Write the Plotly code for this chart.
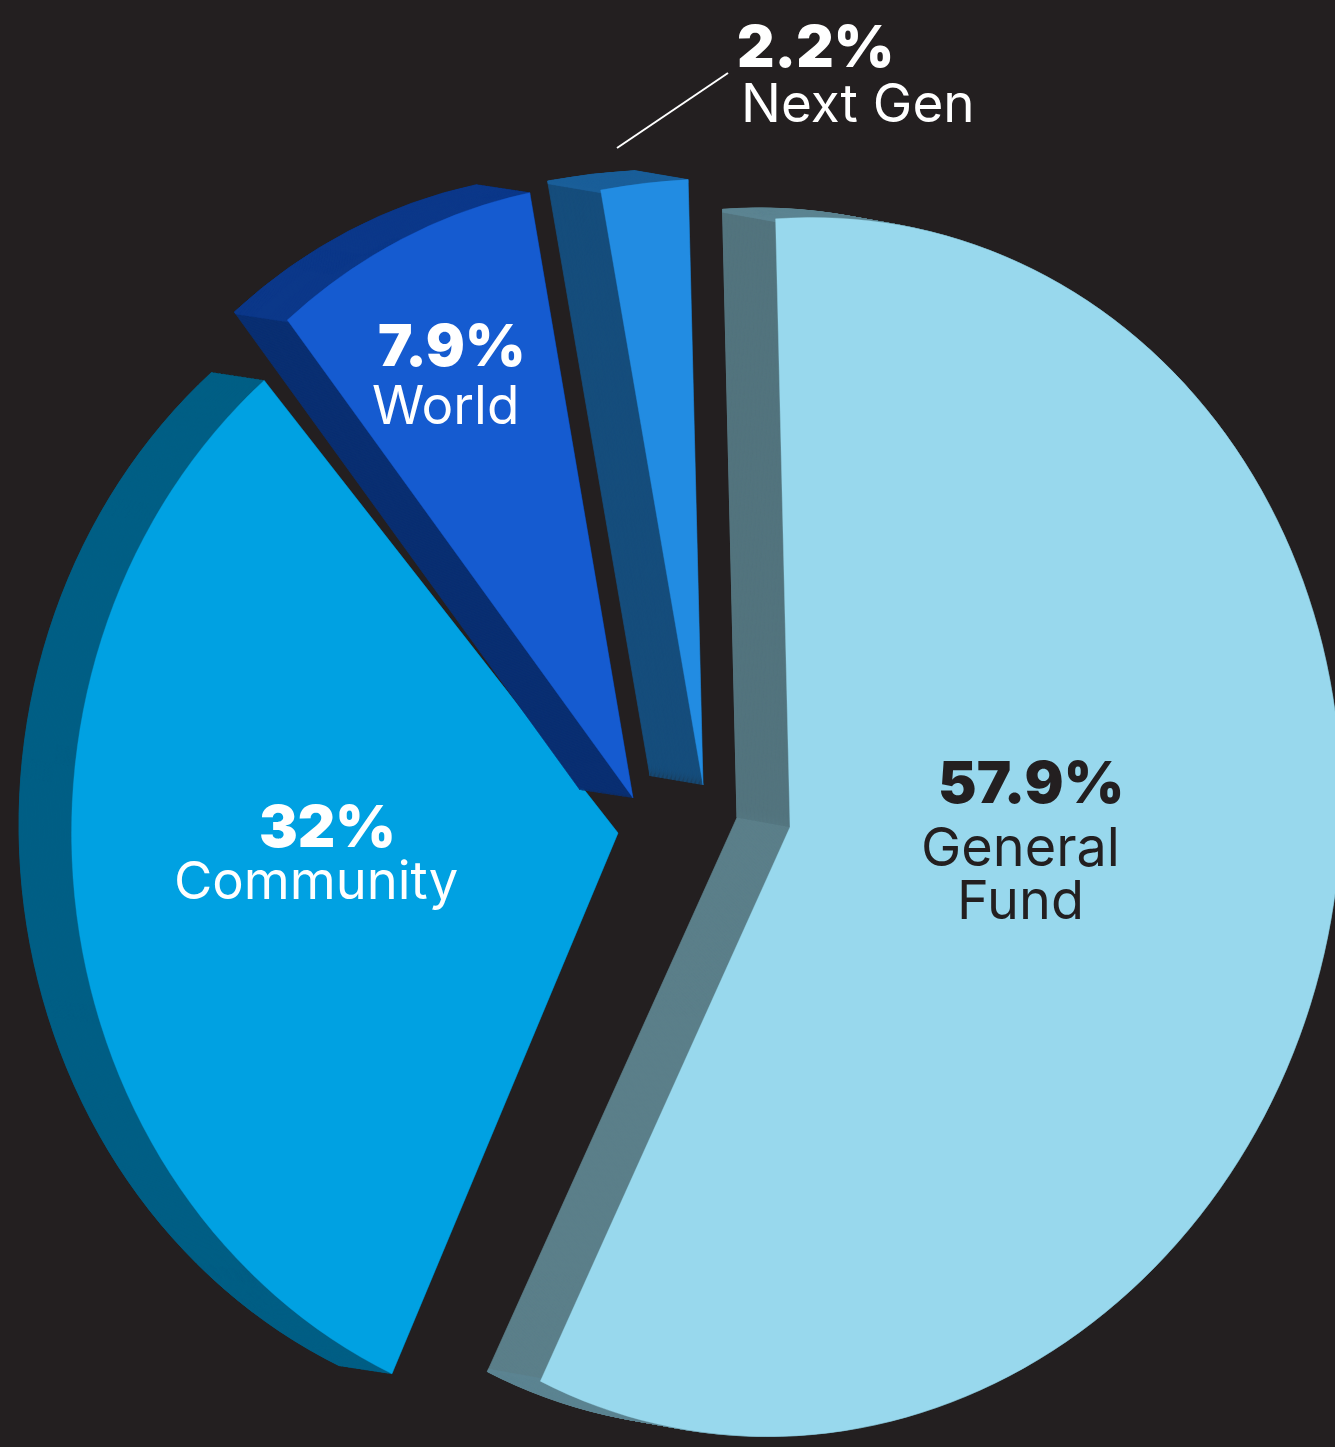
import json
import plotly.graph_objects as go

categories = ["General Fund", "Community", "World", "Next Gen"]
shares = [57.9, 32, 7.9, 2.2]
face_colors = ["#98d8ed", "#00a1e2", "#155bd0", "#228ce2"]
wall_colors = ["#5b7f8a", "#005d82", "#0a2f72", "#164d7c"]
rim_colors = ["#5c8492", "#005f85", "#0c388a", "#1a5f99"]
top_wall_color = "#53747e"
BG = "#231f20"
W, H = 1335, 1447

# Foreshortening of each wedge: apex on the page, radius, x scale, shear, start angle
apex = [(790, 827), (618, 833), (633, 798), (703, 785)]
radius = [609, 594, 616, 606]
squeeze = [0.905, 0.92, 0.885, 1.05]
shear = [0.045, 0.0, -0.005, 0.03]
start = [-1.5, -4.0, -3.0, -1.34]
depth = [(-53, -9.5), (-52.5, -8), (-53, -8), (-53, -9)]
STEPS = 40

R0 = min(W, H) / 2
cx, cy = W / 2, H / 2


def matrix(i, dx=0.0, dy=0.0):
    s = radius[i] / R0
    a = squeeze[i]
    m = shear[i]
    ax, ay = apex[i][0] + dx, apex[i][1] + dy
    return [a * s, -m * a * s, 0, s, ax - a * s * cx, ay - s * cy + m * a * s * cx]


fig = go.Figure()
matrices = []


def wedge(i, color, rotation=None, hole=0.0, line=0.0, which=None, dx=0.0, dy=0.0):
    which = i if which is None else which
    clear = "rgba(0,0,0,0)"
    fig.add_trace(go.Pie(
        labels=categories, values=shares, sort=False, direction="clockwise",
        rotation=start[i] if rotation is None else rotation,
        hole=hole, textinfo="none", hoverinfo="skip", showlegend=False,
        domain=dict(x=[0, 1], y=[0, 1]),
        marker=dict(
            colors=[color if k == which else clear for k in range(4)],
            line=dict(width=[line if k == which else 0 for k in range(4)],
                      color=[color if k == which else clear for k in range(4)]),
        ),
    ))
    matrices.append(matrix(i, dx, dy))


for i in range(4):
    ox, oy = depth[i]
    ts = [1 - n / STEPS for n in range(STEPS + 1)]
    for t in ts:
        wedge(i, wall_colors[i], line=0.8, dx=ox * t, dy=oy * t)
    if i == 0:
        # the narrow "Next Gen" wedge turned onto the top cut of General Fund paints its wall
        for t in ts:
            wedge(0, top_wall_color, rotation=start[0] - 352.08, which=3, line=0.8, dx=ox * t, dy=oy * t)
    for t in ts:
        wedge(i, rim_colors[i], hole=0.995, line=0.6, dx=ox * t, dy=oy * t)
    wedge(i, face_colors[i], line=0.4)


def px(x):
    return x / W


def py(y):
    return 1 - y / H


texts = [
    ("2.2%", 815, 46, 58, "white", 900),
    ("Next Gen", 858, 103, 53, "white", 400),
    ("7.9%", 452, 345, 58, "white", 900),
    ("World", 445, 405, 53, "white", 400),
    ("32%", 327, 826, 58, "white", 900),
    ("Community", 316, 880, 52.5, "white", 400),
    ("57.9%", 1031, 782, 58, BG, 900),
    ("General", 1020, 846, 54, BG, 400),
    ("Fund", 1020, 899, 54, BG, 400),
]
for text, x, y, size, color, weight in texts:
    fig.add_annotation(
        x=px(x), y=py(y), xref="paper", yref="paper", text=text, showarrow=False,
        xanchor="center", yanchor="middle",
        font=dict(family="Inter", size=size, color=color, weight=weight),
    )

fig.add_shape(type="line", xref="paper", yref="paper",
              x0=px(617), y0=py(148), x1=px(728), y1=py(73),
              line=dict(color="white", width=2))

fig.update_layout(width=W, height=H, margin=dict(l=0, r=0, t=0, b=0),
                  paper_bgcolor=BG, plot_bgcolor=BG, showlegend=False)

post = """
var ms = %s;
var gs = document.querySelectorAll('.pielayer g.trace');
gs.forEach(function(g, i){ g.setAttribute('transform', 'matrix(' + ms[i].join(',') + ')'); });
document.body.style.margin = '0';
""" % json.dumps(matrices)

fig.write_html("out.html", post_script=post, config=dict(displayModeBar=False))
